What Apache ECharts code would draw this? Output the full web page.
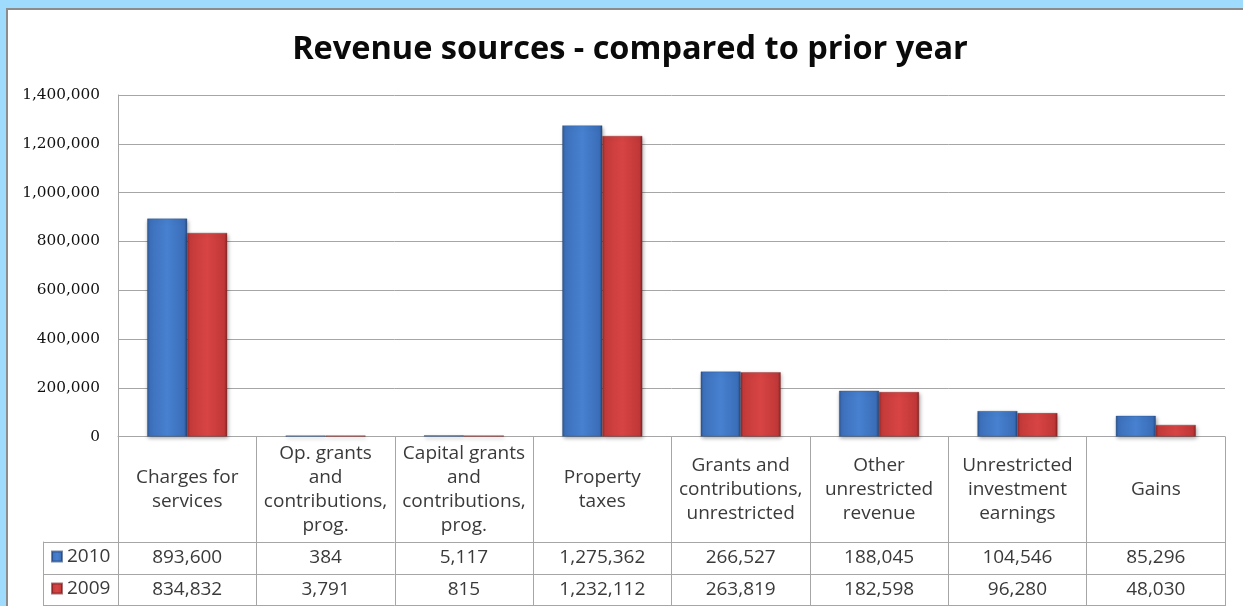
<!DOCTYPE html>
<html>
<head>
<meta charset="utf-8">
<script src="https://cdn.jsdelivr.net/npm/echarts@6.0.0/dist/echarts.min.js"></script>
<style>
  html, body { margin: 0; padding: 0; width: 1243px; height: 606px; overflow: hidden; background: #9fdbfc; }
  #frame { position: absolute; left: 6px; top: 8px; width: 1300px; height: 700px; background: #ffffff; border-left: 2px solid #8c8c8c; border-top: 2px solid #8c8c8c; }
  #chart { position: absolute; left: 0; top: 0; width: 1243px; height: 606px; }
</style>
</head>
<body>
<div id="frame"></div>
<div id="chart"></div>
<script>
// ---- data ----
const categories = [
  'Charges for\nservices',
  'Op. grants\nand\ncontributions,\nprog.',
  'Capital grants\nand\ncontributions,\nprog.',
  'Property\ntaxes',
  'Grants and\ncontributions,\nunrestricted',
  'Other\nunrestricted\nrevenue',
  'Unrestricted\ninvestment\nearnings',
  'Gains'
];
const seriesNames = ['2010', '2009'];
const values2010 = [893600, 384, 5117, 1275362, 266527, 188045, 104546, 85296];
const values2009 = [834832, 3791, 815, 1232112, 263819, 182598, 96280, 48030];
const yTicks = { min: 0, max: 1400000, interval: 200000 };

// ---- style ----
const fmt = v => Number(v).toLocaleString('en-US');
const gridColor = '#a6a6a6';
const tableText = { fontFamily: 'Open Sans', fontSize: 19, color: '#3a3a3a' };
const blueGrad = new echarts.graphic.LinearGradient(0, 0, 1, 0, [
  { offset: 0, color: '#2c5690' }, { offset: 0.07, color: '#3d70bb' },
  { offset: 0.5, color: '#4781d0' }, { offset: 0.93, color: '#3a6db8' },
  { offset: 1, color: '#264b80' }
]);
const redGrad = new echarts.graphic.LinearGradient(0, 0, 1, 0, [
  { offset: 0, color: '#952a2a' }, { offset: 0.07, color: '#c43a3a' },
  { offset: 0.5, color: '#d84444' }, { offset: 0.93, color: '#c03737' },
  { offset: 1, color: '#862424' }
]);

const chart = echarts.init(document.getElementById('chart'), null, { renderer: 'canvas' });

const bottomGap = 169.4;
const option = {
  animation: false,
  backgroundColor: 'transparent',
  title: {
    text: 'Revenue sources - compared to prior year',
    left: 625,
    textAlign: 'center',
    top: 28,
    textStyle: { fontFamily: 'Open Sans', fontWeight: 'bold', fontSize: 32.5, color: '#0a0a0a' }
  },
  legend: [
    { data: ['2010'], left: 51, top: 547, padding: 0, icon: 'rect', itemWidth: 10, itemHeight: 10, selectedMode: false, textStyle: tableText },
    { data: ['2009'], left: 51, top: 579, padding: 0, icon: 'rect', itemWidth: 10, itemHeight: 10, selectedMode: false, textStyle: tableText }
  ],
  grid: [
    { left: 118, right: 18, top: 95, bottom: bottomGap, containLabel: false, outerBoundsMode: 'none' },
    { left: 43, width: 75, top: 542, height: 63.6, containLabel: false, outerBoundsMode: 'none' }
  ],
  xAxis: [
    {
      type: 'category', gridIndex: 0, data: categories, position: 'bottom',
      axisLine: { show: true, lineStyle: { color: gridColor } },
      axisTick: { show: true, length: bottomGap, lineStyle: { color: gridColor } },
      axisLabel: Object.assign({ interval: 0, margin: 53, verticalAlign: 'middle', lineHeight: 24, align: 'center', hideOverlap: false }, tableText),
      splitLine: { show: false }
    },
    {
      type: 'category', gridIndex: 0, data: categories, position: 'bottom', offset: 105.4,
      axisLine: { show: true, lineStyle: { color: gridColor } },
      axisTick: { show: false },
      axisLabel: Object.assign({ interval: 0, margin: 16, verticalAlign: 'middle', formatter: (v, i) => fmt(values2010[i]) }, tableText)
    },
    {
      type: 'category', gridIndex: 0, data: categories, position: 'bottom', offset: 137.4,
      axisLine: { show: true, lineStyle: { color: gridColor } },
      axisTick: { show: false },
      axisLabel: Object.assign({ interval: 0, margin: 16, verticalAlign: 'middle', formatter: (v, i) => fmt(values2009[i]) }, tableText)
    },
    {
      type: 'category', gridIndex: 0, data: categories, position: 'bottom', offset: bottomGap - 0.5,
      axisLine: { show: true, lineStyle: { color: gridColor } },
      axisTick: { show: false }, axisLabel: { show: false }
    },
    { type: 'value', gridIndex: 1, show: false }
  ],
  yAxis: [
    {
      type: 'value', gridIndex: 0, min: yTicks.min, max: yTicks.max, interval: yTicks.interval,
      axisLine: { show: true, lineStyle: { color: gridColor } },
      axisTick: { show: false },
      axisLabel: { margin: 18, fontFamily: 'DejaVu Serif', fontSize: 15.3, color: '#111111', formatter: v => fmt(v) },
      splitLine: { show: true, lineStyle: { color: gridColor } }
    },
    {
      type: 'category', gridIndex: 1, data: seriesNames, inverse: true,
      axisLine: { show: true, lineStyle: { color: gridColor } },
      axisTick: { show: true, inside: true, length: 75, lineStyle: { color: gridColor } },
      axisLabel: { show: false }
    }
  ],
  series: [
    {
      name: '2010', type: 'bar', xAxisIndex: 0, yAxisIndex: 0, data: values2010,
      barWidth: 40, barGap: '0%', barMinHeight: 1,
      itemStyle: { color: blueGrad, borderColor: 'rgba(30,60,110,0.6)', borderWidth: 0.5, shadowBlur: 4, shadowColor: 'rgba(0,0,0,0.35)', shadowOffsetX: 1, shadowOffsetY: 2 }
    },
    {
      name: '2009', type: 'bar', xAxisIndex: 0, yAxisIndex: 0, data: values2009,
      barWidth: 40, barGap: '0%', barMinHeight: 1,
      itemStyle: { color: redGrad, borderColor: 'rgba(110,25,25,0.6)', borderWidth: 0.5, shadowBlur: 4, shadowColor: 'rgba(0,0,0,0.35)', shadowOffsetX: 1, shadowOffsetY: 2 }
    }
  ]
};
chart.setOption(option);
</script>
</body>
</html>
